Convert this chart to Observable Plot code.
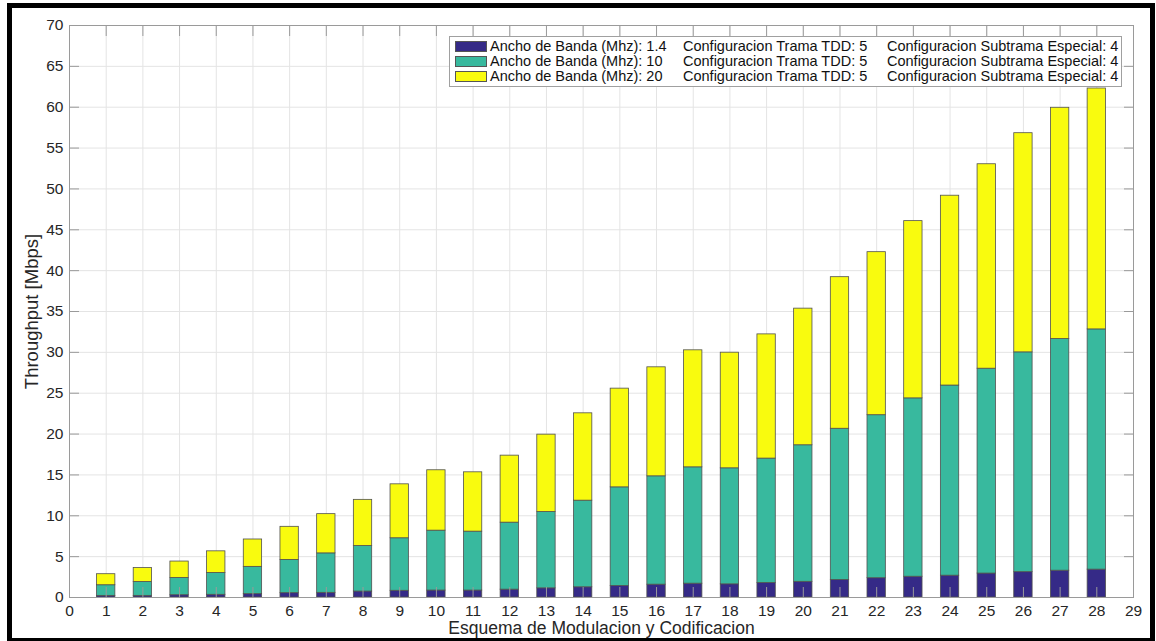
<!DOCTYPE html>
<html><head><meta charset="utf-8">
<script src="https://cdn.jsdelivr.net/npm/d3@7"></script>
<script src="https://cdn.jsdelivr.net/npm/@observablehq/plot@0.6"></script>
<style>
body{margin:0;background:#fff;}
#wrap{position:relative;width:1156px;height:641px;overflow:hidden;font-family:"Liberation Sans",Arial,sans-serif;}
#chart{position:absolute;left:0;top:0;}
#frame{position:absolute;left:7px;top:3px;width:1148px;height:640px;border:5px solid #000;box-sizing:border-box;pointer-events:none;}
#legend{position:absolute;left:449px;top:36px;width:673px;height:51px;border:1px solid #a0a0a0;background:#fff;box-sizing:border-box;}
.sw{position:absolute;left:5px;width:32px;height:11px;border:1px solid #555;box-sizing:border-box;}
.lt{position:absolute;font-size:14.5px;color:#111;white-space:nowrap;line-height:15px;}
</style></head><body>
<div id="wrap"><div id="chart"></div><div id="legend"></div><div id="frame"></div></div>
<script>
// ---- data ----
const mcs = [1,2,3,4,5,6,7,8,9,10,11,12,13,14,15,16,17,18,19,20,21,22,23,24,25,26,27,28];
const bandwidths = ["1.4", "10", "20"];
const tddConfig = [5, 5, 5];
const specialSubframe = [4, 4, 4];
// throughput (Mbps) per bandwidth, stacked in the chart
const bw14 = [0.2,0.2,0.28,0.33,0.41,0.53,0.57,0.73,0.82,0.85,0.85,0.96,1.12,1.25,1.41,1.57,1.69,1.61,1.77,1.92,2.14,2.36,2.54,2.67,2.93,3.1,3.28,3.41];
const bw10 = [1.3,1.7,2.12,2.67,3.34,4.07,4.83,5.57,6.43,7.33,7.21,8.2,9.34,10.6,12.07,13.26,14.24,14.2,15.23,16.71,18.51,19.95,21.83,23.27,25.07,26.9,28.35,29.4];
const bw20 = [1.35,1.7,2.0,2.65,3.35,4.05,4.8,5.65,6.6,7.39,7.26,8.2,9.47,10.69,12.08,13.34,14.32,14.15,15.2,16.72,18.55,19.95,21.69,23.23,25.02,26.82,28.3,29.48];
const xTicks = [0,1,2,3,4,5,6,7,8,9,10,11,12,13,14,15,16,17,18,19,20,21,22,23,24,25,26,27,28,29];
const yTicks = [0,5,10,15,20,25,30,35,40,45,50,55,60,65,70];
const colors = ["#352a87", "#38b99e", "#f9fb0e"];
const xLabel = "Esquema de Modulacion y Codificacion";
const yLabel = "Throughput [Mbps]";

const seriesNames = bandwidths.map((b, j) => `Ancho de Banda (Mhz): ${b}`);
const seriesValues = [bw14, bw10, bw20];
const rows = [];
mcs.forEach((m, i) => {
  let base = 0;
  seriesValues.forEach((arr, j) => {
    rows.push({mcs: m, series: seriesNames[j], y1: base, y2: base + arr[i]});
    base += arr[i];
  });
});

const axisStroke = "#9a9a9a";
const textFill = "#262626";
const chart = Plot.plot({
  width: 1156, height: 641,
  marginLeft: 69, marginRight: 23, marginTop: 25, marginBottom: 44,
  style: {fontFamily: "Liberation Sans, Arial, sans-serif", fontSize: "15.5px", color: textFill, background: "transparent"},
  x: {type: "linear", domain: [0, 29]},
  y: {type: "linear", domain: [0, 70]},
  color: {domain: seriesNames, range: colors},
  marks: [
    Plot.gridX(xTicks, {stroke: "#e4e4e4", strokeOpacity: 1}),
    Plot.gridY(yTicks, {stroke: "#e4e4e4", strokeOpacity: 1}),
    Plot.rect(rows, {x1: d => d.mcs - 0.25, x2: d => d.mcs + 0.25, y1: "y1", y2: "y2", fill: "series", stroke: "#505050", strokeWidth: 0.8}),
    Plot.frame({stroke: axisStroke}),
    Plot.axisX(xTicks, {anchor: "bottom", tickSize: -10, tickPadding: 17, stroke: axisStroke, fill: textFill, label: null}),
    Plot.axisX(xTicks, {anchor: "top", tickSize: -10, tickFormat: () => "", stroke: axisStroke, label: null}),
    Plot.axisY(yTicks, {anchor: "left", tickSize: -10, tickPadding: 16, stroke: axisStroke, fill: textFill, label: null}),
    Plot.axisY(yTicks, {anchor: "right", tickSize: -10, tickFormat: () => "", stroke: axisStroke, label: null}),
    Plot.text([yLabel], {frameAnchor: "left", dx: -37, rotate: -90, textAnchor: "middle", lineAnchor: "middle", fontSize: 18.5, fill: textFill}),
    Plot.text([xLabel], {frameAnchor: "bottom", dy: 31, textAnchor: "middle", lineAnchor: "middle", fontSize: 17.5, fill: textFill})
  ]
});
document.getElementById("chart").appendChild(chart);

// legend
const legend = document.getElementById("legend");
seriesNames.forEach((name, j) => {
  const top = 3 + j * 15;
  const sw = document.createElement("div");
  sw.className = "sw";
  sw.style.top = (top + 1) + "px";
  sw.style.background = colors[j];
  legend.appendChild(sw);
  const cols = [
    [40, name],
    [233, `Configuracion Trama TDD: ${tddConfig[j]}`],
    [437, `Configuracion Subtrama Especial: ${specialSubframe[j]}`]
  ];
  cols.forEach(([left, txt]) => {
    const s = document.createElement("div");
    s.className = "lt";
    s.style.left = left + "px";
    s.style.top = (top - 1) + "px";
    s.textContent = txt;
    legend.appendChild(s);
  });
});
</script>
</body></html>
